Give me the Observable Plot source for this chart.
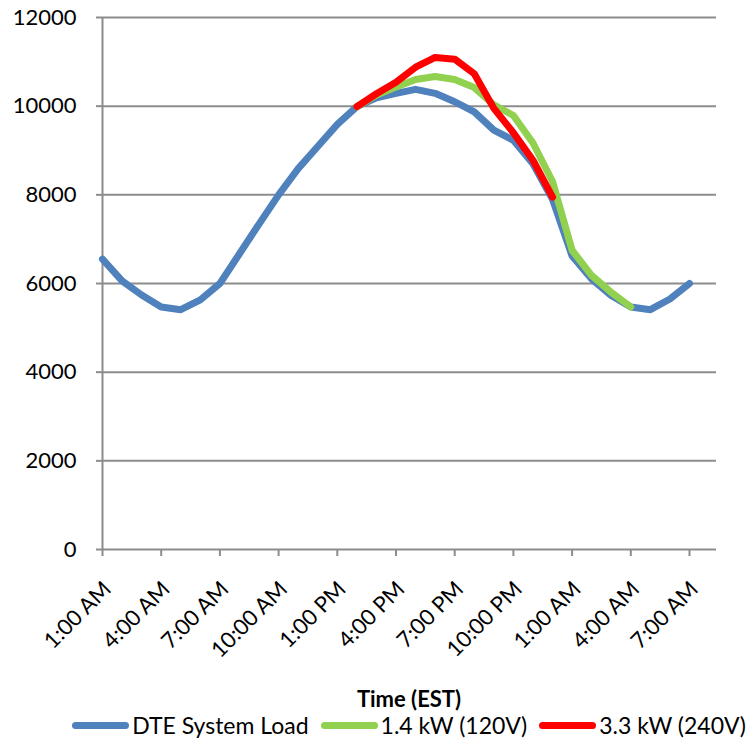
<!DOCTYPE html>
<html><head><meta charset="utf-8">
<script src="https://cdn.jsdelivr.net/npm/d3@7"></script>
<script src="https://cdn.jsdelivr.net/npm/@observablehq/plot@0.6"></script>
<style>
body{margin:0;background:#fff;font-family:Lato,"Noto Sans",sans-serif;color:#000;}
#wrap{width:750px;height:741px;overflow:hidden;position:relative;}
#xlabel{margin-left:102px;width:614px;text-align:center;font-weight:bold;font-size:22px;line-height:26px;height:26px;margin-top:3px;}
#legend{margin-left:102px;width:614px;display:flex;justify-content:center;align-items:center;height:26px;font-size:23px;white-space:nowrap;}
.item{display:flex;align-items:center;margin:0 6px;}
.sw{display:inline-block;width:57px;height:7px;border-radius:4px;margin-right:3px;}
</style></head><body><div id="wrap"><div id="chart"></div><div id="xlabel">Time (EST)</div><div id="legend"></div></div>
<script>
// hours after 1:00 AM (hourly categories)
const hourOffset = [0,1,2,3,4,5,6,7,8,9,10,11,12,13,14,15,16,17,18,19,20,21,22,23,24,25,26,27,28,29,30];
const tickHours = [0,3,6,9,12,15,18,21,24,27,30];
const tickLabels = ["1:00 AM","4:00 AM","7:00 AM","10:00 AM","1:00 PM","4:00 PM","7:00 PM","10:00 PM","1:00 AM","4:00 AM","7:00 AM"];
const yTicks = [0,2000,4000,6000,8000,10000,12000];

const seriesNames = ["DTE System Load","1.4 kW (120V)","3.3 kW (240V)"];
const seriesColors = ["#4F81BD","#92D050","#FF0000"];

const dteLoad = [6550,6060,5740,5470,5410,5630,6000,6670,7340,8000,8590,9090,9590,9990,10190,10290,10380,10290,10100,9870,9460,9230,8700,7900,6620,6100,5730,5470,5410,5650,6000];
const level1Hours = [13,14,15,16,17,18,19,20,21,22,23,24,25,26,27];
const level1Load = [9990,10250,10430,10600,10670,10600,10420,10030,9790,9170,8300,6750,6180,5800,5470];
const level2Hours = [13,14,15,16,17,18,19,20,21,22,23];
const level2Load = [9990,10280,10540,10880,11100,11060,10730,9950,9400,8780,7950];

const rows = [];
dteLoad.forEach((v,i)=>rows.push({series:seriesNames[0], h:hourOffset[i], v}));
level1Load.forEach((v,i)=>rows.push({series:seriesNames[1], h:level1Hours[i], v}));
level2Load.forEach((v,i)=>rows.push({series:seriesNames[2], h:level2Hours[i], v}));

const grey = "#8c8c8c";
const chart = Plot.plot({
  width: 750, height: 683,
  marginTop: 17, marginBottom: 134, marginLeft: 102, marginRight: 34,
  style: {fontFamily: "Lato, 'Noto Sans', sans-serif", fontSize: "22px", color: "#000", background: "#fff", overflow: "visible"},
  x: {type: "linear", domain: [0, 30], range: [102, 689]},
  y: {domain: [0, 12000]},
  color: {domain: seriesNames, range: seriesColors},
  marks: [
    Plot.ruleY(yTicks, {stroke: grey, strokeWidth: 2}),
    Plot.ruleX([0], {y1: 0, y2: 12000, stroke: grey, strokeWidth: 2}),
    Plot.axisY({ticks: yTicks, tickSize: 6, tickPadding: 20, tickFormat: d => String(d), stroke: grey, strokeWidth: 2, fill: "#000", label: null}),
    Plot.axisX({ticks: tickHours, tickSize: 7, tickFormat: () => "", stroke: grey, strokeWidth: 2, label: null}),
    Plot.axisX({ticks: tickHours, tickSize: 0, tickPadding: 36, dx: 5, tickRotate: -45, tickFormat: d => tickLabels[tickHours.indexOf(d)], fill: "#000", label: null}),
    Plot.line(rows, {x: "h", y: "v", z: "series", stroke: "series", strokeWidth: 7, strokeLinecap: "round", strokeLinejoin: "round"})
  ]
});
document.getElementById("chart").appendChild(chart);

const legend = document.getElementById("legend");
seriesNames.forEach((name, i) => {
  const item = document.createElement("div");
  item.className = "item";
  const sw = document.createElement("span");
  sw.className = "sw";
  sw.style.background = seriesColors[i];
  const t = document.createElement("span");
  t.textContent = name;
  item.appendChild(sw); item.appendChild(t);
  legend.appendChild(item);
});
</script></body></html>
